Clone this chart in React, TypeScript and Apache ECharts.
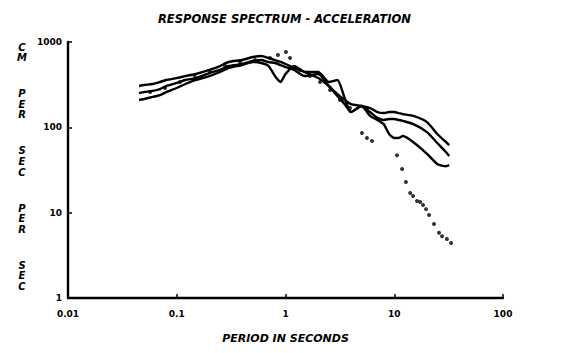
import React, { useEffect, useRef } from "react";
import * as echarts from "echarts";

const titleText = "RESPONSE SPECTRUM - ACCELERATION";
const xAxisTitle = "PERIOD IN SECONDS";
const yAxisWords = ["CM", "PER", "SEC", "PER", "SEC"];
const xTickLabels = ["0.01", "0.1", "1", "10", "100"];
const yTickLabels = ["1", "10", "100", "1000"];

// periods (s) shared by the three solid spectra
const periods = [0.045, 0.05, 0.06, 0.07, 0.08, 0.1, 0.12, 0.15, 0.2, 0.25, 0.3, 0.4, 0.5, 0.6, 0.7, 0.8, 0.9, 1.0, 1.2, 1.5, 2, 2.5, 3, 3.5, 4, 5, 6, 7, 8, 9, 10, 11, 12, 15, 20, 25, 30, 32];
// spectral accelerations (cm/s/s)
const lineA = [305, 313, 322, 340, 359, 378, 399, 422, 470, 523, 583, 615, 667, 685, 649, 615, 583, 552, 496, 445, 378, 305, 245, 209, 187, 178, 168, 151, 147, 151, 151, 147, 143, 136, 115, 83, 67, 62];
const lineB = [252, 259, 267, 281, 305, 331, 359, 378, 433, 470, 523, 552, 599, 615, 583, 567, 537, 509, 470, 399, 422, 305, 233, 187, 151, 178, 151, 129, 122, 125, 125, 122, 119, 109, 88, 65, 51, 46];
const lineC = [209, 215, 227, 239, 259, 289, 322, 359, 399, 445, 496, 537, 583, 567, 523, 399, 340, 422, 523, 445, 445, 340, 359, 221, 151, 178, 136, 122, 109, 83, 75, 75, 79, 67, 49, 37, 35, 36];

// dotted spectrum
const dotPeriods = [0.057, 0.078, 0.107, 0.147, 0.202, 0.278, 0.382, 0.525, 0.72, 0.853, 1.01, 1.1, 1.36, 1.68, 2.08, 2.57, 3.17, 3.92, 5.05, 5.61, 6.24, 10.6, 11.8, 12.8, 14.0, 14.9, 16.2, 17.3, 18.4, 19.6, 20.9, 23.2, 25.8, 27.5, 30.5, 33.3];
const dotValues = [259, 289, 340, 389, 445, 523, 583, 615, 649, 705, 763, 649, 470, 399, 340, 274, 209, 168, 86, 75, 69, 47, 32.5, 22.9, 17, 15.7, 13.7, 13.3, 12.3, 11.0, 9.4, 7.35, 5.8, 5.3, 4.9, 4.4];

const FONT = "DejaVu Sans";

function pairs(xs: number[], ys: number[]) {
  return xs.map((x, i) => [x, ys[i]]);
}

export default function App() {
  const ref = useRef<HTMLDivElement>(null);
  useEffect(() => {
    if (!ref.current) return;
    const chart = echarts.init(ref.current, null, { renderer: "svg" });

    // vertical stacked y-axis title letters
    const letters: any[] = [];
    let y = 47;
    const step = 10.6;
    const wordGap = 36;
    yAxisWords.forEach((w, wi) => {
      if (wi > 0) y += wordGap - step;
      for (const ch of w) {
        letters.push({
          type: "text",
          x: 22,
          y,
          style: {
            text: ch,
            fontFamily: FONT,
            fontSize: 10,
            fontWeight: "bold",
            fontStyle: "italic",
            lineHeight: 10,
            fill: "#000",
            align: "center",
            verticalAlign: "middle",
          },
        });
        y += step;
      }
    });

    const lineSeries = [lineA, lineB, lineC].map((vals, i) => ({
      type: "line",
      name: "s" + i,
      data: pairs(periods, vals),
      showSymbol: false,
      symbol: "none",
      smooth: 0.2,
      lineStyle: { color: "#000", width: 2.4 },
    }));

    chart.setOption({
      animation: false,
      backgroundColor: "#fff",
      title: {
        text: titleText,
        left: 153,
        top: 8,
        textStyle: { fontFamily: FONT, fontSize: 11.5, fontWeight: "bold", fontStyle: "italic", color: "#000" },
      },
      grid: { left: 68, right: 69, top: 42, bottom: 55 },
      xAxis: {
        type: "log",
        logBase: 10,
        min: 0.01,
        max: 100,
        name: xAxisTitle,
        nameLocation: "middle",
        nameGap: 35,
        nameTextStyle: { fontFamily: FONT, fontSize: 11, fontWeight: "bold", fontStyle: "italic", color: "#000" },
        axisLine: { lineStyle: { color: "#000", width: 2.4 } },
        axisTick: { inside: true, length: 4, lineStyle: { color: "#000", width: 1.5 } },
        minorTick: { show: false },
        splitLine: { show: false },
        axisLabel: {
          margin: 11,
          fontFamily: FONT,
          fontSize: 9,
          fontWeight: "bold",
          color: "#000",
          formatter: (v: number) => xTickLabels[Math.round(Math.log10(v)) + 2] ?? "",
        },
      },
      yAxis: {
        type: "log",
        logBase: 10,
        min: 1,
        max: 1000,
        axisLine: { show: true, lineStyle: { color: "#000", width: 2.4 } },
        axisTick: { show: true, inside: true, length: 4, lineStyle: { color: "#000", width: 1.5 } },
        minorTick: { show: false },
        splitLine: { show: false },
        axisLabel: {
          margin: 6,
          fontFamily: FONT,
          fontSize: 9,
          fontWeight: "bold",
          color: "#000",
          formatter: (v: number) => yTickLabels[Math.round(Math.log10(v))] ?? "",
        },
      },
      graphic: letters,
      series: [
        ...lineSeries,
        {
          type: "scatter",
          name: "dots",
          data: pairs(dotPeriods, dotValues),
          symbol: "circle",
          symbolSize: 4,
          itemStyle: { color: "#000" },
        },
      ],
    });
    return () => chart.dispose();
  }, []);
  return (
    <div
      ref={ref}
      style={{ position: "fixed", left: 0, top: 0, width: 572, height: 353, background: "#fff" }}
    />
  );
}
